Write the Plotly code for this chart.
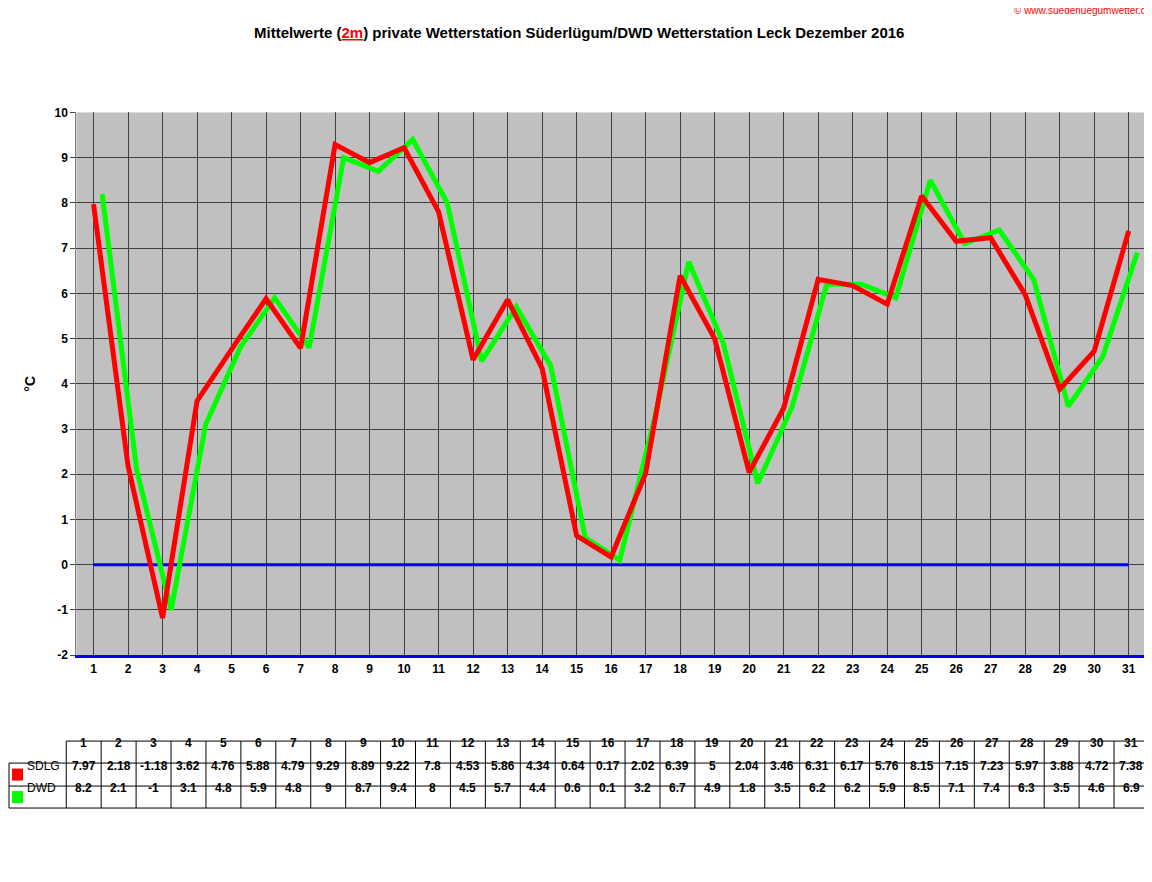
import plotly.graph_objects as go

days = list(range(1, 32))
sdlg = [7.97,2.18,-1.18,3.62,4.76,5.88,4.79,9.29,8.89,9.22,7.8,4.53,5.86,4.34,0.64,0.17,2.02,6.39,5,2.04,3.46,6.31,6.17,5.76,8.15,7.15,7.23,5.97,3.88,4.72,7.38]
dwd = [8.2,2.1,-1,3.1,4.8,5.9,4.8,9,8.7,9.4,8,4.5,5.7,4.4,0.6,0.1,3.2,6.7,4.9,1.8,3.5,6.2,6.2,5.9,8.5,7.1,7.4,6.3,3.5,4.6,6.9]
yticks = list(range(-2, 11))
series = [("SDLG", sdlg, "#FF0000"), ("DWD", dwd, "#00FF00")]

F = "Liberation Sans, Arial, sans-serif"

def px(x):
    return (x - 7) / 1147.0

def py(y):
    return (883 - y) / 868.5

fig = go.Figure()
fig.add_trace(go.Scatter(x=days, y=[0]*31, mode="lines", line=dict(color="#0000FF", width=3), hoverinfo="skip"))
fig.add_trace(go.Scatter(x=[d+0.25 for d in days], y=dwd, mode="lines", line=dict(color="#00FF00", width=5), name="DWD"))
fig.add_trace(go.Scatter(x=days, y=sdlg, mode="lines", line=dict(color="#FF0000", width=5), name="SDLG"))

shapes, ann = [], []
# table geometry (pixels)
tx0, c0w, cw, tx1 = 8, 57, (1143 - 65) / 31.0, 1143
rows = [741, 763, 786, 808]
colx = [tx0, tx0 + c0w] + [tx0 + c0w + cw*(i+1) for i in range(31)]
for yv in rows:
    x_start = tx0 + c0w if yv == rows[0] else tx0
    shapes.append(dict(type="line", xref="paper", yref="paper", x0=px(x_start), x1=px(tx1), y0=py(yv), y1=py(yv), line=dict(color="black", width=1)))
for i, xv in enumerate(colx):
    y_start = rows[1] if i == 0 else rows[0]
    shapes.append(dict(type="line", xref="paper", yref="paper", x0=px(xv), x1=px(xv), y0=py(y_start), y1=py(rows[-1]), line=dict(color="black", width=1)))
for i, d in enumerate(days):
    cx = (colx[i+1] + colx[i+2]) / 2
    ann.append(dict(x=px(cx), y=py((rows[0]+rows[1])/2), text="<b>%d</b>" % d))
    for r, (nm, vals, col) in enumerate(series):
        ann.append(dict(x=px(cx), y=py((rows[r+1]+rows[r+2])/2), text="<b>%g</b>" % vals[i]))
for r, (nm, vals, col) in enumerate(series):
    yc = (rows[r+1]+rows[r+2])/2
    shapes.append(dict(type="rect", xref="paper", yref="paper", x0=px(11), x1=px(22), y0=py(yc+6), y1=py(yc-6), fillcolor=col, line=dict(width=0)))
    ann.append(dict(x=px(24), y=py(yc), text=nm, xanchor="left"))
for a in ann:
    a.update(xref="paper", yref="paper", showarrow=False, font=dict(family=F, size=12, color="black"))
    a.setdefault("xanchor", "center")

ann += [
    dict(x=px(576), y=py(22), xref="paper", yref="paper", showarrow=False, xanchor="center",
         font=dict(family=F, size=15, color="black"),
         text='<b>Mittelwerte (<span style="color:#FF0000"><u>2m</u></span>) private Wetterstation Süderlügum/DWD Wetterstation Leck Dezember 2016</b>'),
    dict(x=px(1148), y=py(2), xref="paper", yref="paper", showarrow=False, xanchor="right", yanchor="top",
         font=dict(family=F, size=10, color="#FF0000"), text="© www.suederluegumwetter.de"),
]

fig.update_layout(
    width=1152, height=882, margin=dict(l=0, r=0, t=0, b=0),
    paper_bgcolor="white", plot_bgcolor="#C0C0C0", showlegend=False,
    font=dict(family=F, size=12, color="black"),
    xaxis=dict(domain=[px(75), px(1140)], range=[0.5, 31.5], tickvals=days, ticktext=["<b>%d</b>" % d for d in days],
               showgrid=True, gridcolor="#404040", gridwidth=1, zeroline=False, ticks="", showline=True,
               linecolor="#0000FF", linewidth=3),
    yaxis=dict(domain=[py(655), py(112)], range=[-2, 10], tickvals=yticks, ticktext=["<b>%d</b>" % v for v in yticks],
               showgrid=True, gridcolor="#404040", gridwidth=1, zeroline=False, ticks="outside", ticklen=5,
               showline=True, linecolor="#808080",
               title=dict(text="<b>°C</b>", standoff=15)),
    shapes=shapes, annotations=ann,
)
fig.write_html("out.html")
